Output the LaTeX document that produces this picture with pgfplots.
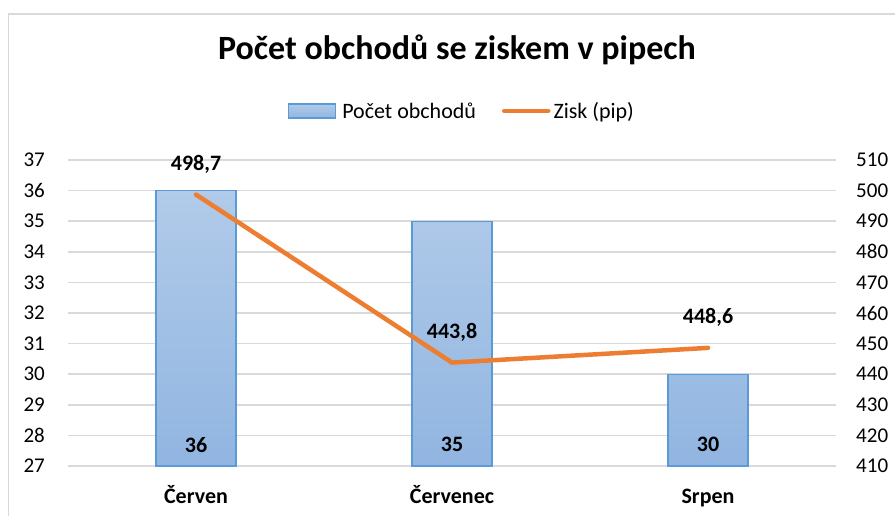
\documentclass[border=0pt]{standalone}
\usepackage{pgfplots}
\pgfplotsset{compat=1.18}
\usepackage{fontspec}
\setmainfont{Carlito}
\definecolor{bartop}{HTML}{B1CBE9}
\definecolor{barbot}{HTML}{91B5E1}
\definecolor{bardraw}{HTML}{5B9BD5}
\definecolor{zorange}{HTML}{ED7D31}
\definecolor{gridgray}{HTML}{D9D9D9}
\definecolor{framegray}{HTML}{D9D9D9}
\begin{document}
\begin{tikzpicture}[x=1pt,y=1pt]
\useasboundingbox (0,0) rectangle (895,516);
\draw[framegray, line width=1.5pt] (8.5,0) -- (8.5,502) -- (895,502);
\node[font=\fontsize{34}{40}\selectfont\bfseries] at (457,466) {Počet obchodů se ziskem v pipech};
\begin{axis}[
  at={(68pt,50pt)}, anchor=south west,
  scale only axis, width=768pt, height=306pt,
  xmin=-0.5, xmax=2.5, ymin=27, ymax=37,
  xtick={0,1,2}, xticklabels={Červen,Červenec,Srpen},
  ytick={27,28,...,37},
  axis line style={draw=none},
  major tick length=0pt,
  ymajorgrids, grid style={gridgray, line width=1.6pt},
  /pgf/number format/assume math mode=true,
  yticklabel style={font=\fontsize{21}{25}\selectfont, inner sep=0pt, anchor=east, xshift=-23pt},
  xticklabel style={font=\fontsize{22}{26}\selectfont\bfseries, inner sep=0pt, anchor=base, yshift=-38pt},
  clip=false,
]
\addplot[ybar, bar width=80pt, draw=bardraw, line width=1.2pt, top color=bartop, bottom color=barbot]
  coordinates {(0,36) (1,35) (2,30)};
\addplot[draw=none, mark=none, nodes near coords, point meta=explicit symbolic,
  every node near coord/.style={font=\fontsize{22}{26}\selectfont\bfseries, anchor=center}]
  coordinates {(0,27.7)[36] (1,27.7)[35] (2,27.7)[30]};
\end{axis}
\begin{axis}[
  at={(68pt,50pt)}, anchor=south west,
  scale only axis, width=768pt, height=306pt,
  xmin=-0.5, xmax=2.5, ymin=410, ymax=510,
  ytick={410,420,...,510},
  axis x line=none,
  axis y line*=right,
  axis line style={draw=none},
  major tick length=0pt,
  /pgf/number format/assume math mode=true,
  yticklabel style={font=\fontsize{21}{25}\selectfont, inner sep=0pt, anchor=west, xshift=20pt},
  clip=false,
  legend style={at={(462pt-68pt,405pt-50pt)}, anchor=center, draw=none, fill=none,
    legend columns=2, font=\fontsize{22}{26}\selectfont,
    /tikz/every even column/.append style={column sep=24pt},
    inner sep=0pt, row sep=0pt},
  legend cell align=left,
]
\addlegendimage{legend image code/.code={\draw[draw=bardraw, line width=1.2pt, top color=bartop, bottom color=barbot] (0pt,-7pt) rectangle (47pt,7pt);}}
\addlegendentry{\hspace*{4pt}Počet obchodů}
\addplot[zorange, line width=4.5pt, line join=round, line cap=round, mark=none,
  legend image code/.code={\draw[zorange, line width=4.5pt, line cap=round] (0pt,0pt) -- (44pt,0pt);},
  nodes near coords, point meta=explicit symbolic,
  every node near coord/.style={font=\fontsize{22}{26}\selectfont\bfseries, black, anchor=center, yshift=30pt}]
  coordinates {(0,498.7)[498,7] (1,443.8)[443,8] (2,448.6)[448,6]};
\addlegendentry{\hspace*{1pt}Zisk (pip)}
\end{axis}
\end{tikzpicture}
\end{document}
